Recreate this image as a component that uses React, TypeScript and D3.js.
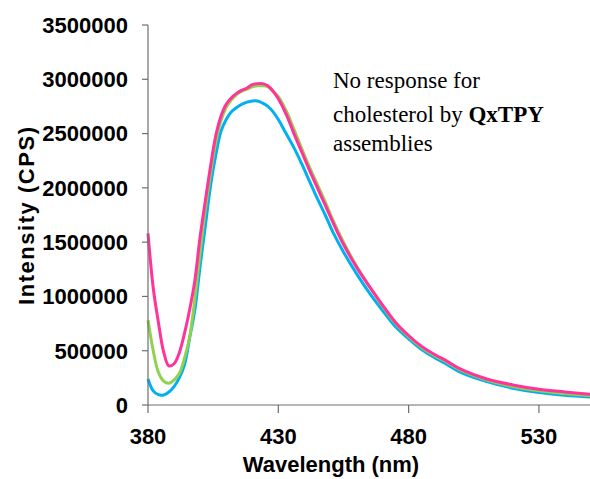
import React from "react";
import * as d3 from "d3";

const wavelengths = [380, 382, 384, 386, 388, 390, 392, 394, 396, 398, 400, 402, 404, 406, 408, 410, 412, 414, 416, 418, 420, 422, 424, 426, 428, 430, 433, 436, 439, 442, 445, 448, 451, 455, 460, 465, 470, 475, 480, 485, 490, 495, 500, 510, 520, 530, 540, 550];

const pinkSeries = [1.58, 1.08, 0.76, 0.49, 0.36, 0.38, 0.48, 0.66, 0.88, 1.15, 1.55, 1.88, 2.20, 2.48, 2.66, 2.77, 2.83, 2.87, 2.90, 2.92, 2.95, 2.96, 2.96, 2.94, 2.89, 2.82, 2.68, 2.50, 2.33, 2.16, 2.00, 1.84, 1.68, 1.48, 1.27, 1.09, 0.92, 0.76, 0.64, 0.54, 0.465, 0.40, 0.33, 0.24, 0.185, 0.145, 0.12, 0.098];

const greenSeries = [0.78, 0.50, 0.30, 0.22, 0.20, 0.23, 0.29, 0.43, 0.63, 0.98, 1.40, 1.80, 2.13, 2.42, 2.62, 2.74, 2.81, 2.86, 2.89, 2.91, 2.93, 2.94, 2.94, 2.93, 2.89, 2.84, 2.71, 2.54, 2.36, 2.19, 2.03, 1.87, 1.70, 1.50, 1.28, 1.09, 0.91, 0.75, 0.63, 0.53, 0.455, 0.39, 0.32, 0.23, 0.17, 0.13, 0.105, 0.085];

const blueSeries = [0.24, 0.13, 0.095, 0.092, 0.12, 0.17, 0.25, 0.37, 0.62, 0.88, 1.28, 1.65, 2.02, 2.30, 2.52, 2.63, 2.70, 2.74, 2.77, 2.79, 2.80, 2.80, 2.78, 2.75, 2.70, 2.63, 2.50, 2.37, 2.22, 2.06, 1.90, 1.75, 1.59, 1.41, 1.21, 1.03, 0.87, 0.72, 0.61, 0.51, 0.435, 0.37, 0.30, 0.215, 0.155, 0.115, 0.09, 0.072];

const xTicks = [380, 430, 480, 530];
const yTicks = [0, 500000, 1000000, 1500000, 2000000, 2500000, 3000000, 3500000];

const series = [
  { name: "blue", values: blueSeries, color: "#00B0F0" },
  { name: "green", values: greenSeries, color: "#92D050" },
  { name: "pink", values: pinkSeries, color: "#FF3399" },
];

export default function App() {
  const W = 590;
  const H = 479;
  const x = d3.scaleLinear().domain([380, 549.6]).range([148, 590]);
  const y = d3.scaleLinear().domain([0, 3500000]).range([405, 25]);
  const line = d3
    .line<number>()
    .x((_, i) => x(wavelengths[i]))
    .y((d) => y(d * 1e6))
    .curve(d3.curveCatmullRom.alpha(0.5));
  const axisColor = "#6e6e6e";
  const sans = "Arial, 'Liberation Sans', sans-serif";
  return (
    <svg
      width={W}
      height={H}
      style={{ position: "absolute", left: 0, top: 0, background: "#fff" }}
    >
      {series.map((s) => (
        <path
          key={s.name}
          d={line(s.values) || ""}
          fill="none"
          stroke={s.color}
          strokeWidth={3}
          strokeLinejoin="round"
        />
      ))}
      {/* axes */}
      <line x1={x(380)} x2={x(380)} y1={y(3500000)} y2={y(0)} stroke={axisColor} strokeWidth={1.2} />
      <line x1={x(380)} x2={590} y1={y(0)} y2={y(0)} stroke={axisColor} strokeWidth={1.2} />
      {yTicks.map((t) => (
        <g key={t}>
          <line x1={x(380) - 6} x2={x(380)} y1={y(t)} y2={y(t)} stroke={axisColor} strokeWidth={1.2} />
          <text
            x={128}
            y={y(t)}
            dy="0.36em"
            textAnchor="end"
            fontFamily={sans}
            fontWeight="bold"
            fontSize={22}
            fill="#000"
          >
            {t}
          </text>
        </g>
      ))}
      {xTicks.map((t) => (
        <g key={t}>
          <line x1={x(t)} x2={x(t)} y1={y(0)} y2={y(0) + 8} stroke={axisColor} strokeWidth={1.2} />
          <text
            x={x(t)}
            y={444}
            textAnchor="middle"
            fontFamily={sans}
            fontWeight="bold"
            fontSize={22}
            fill="#000"
          >
            {t}
          </text>
        </g>
      ))}
      <text
        x={331}
        y={472}
        textAnchor="middle"
        fontFamily={sans}
        fontWeight="bold"
        fontSize={22}
        fill="#000"
      >
        Wavelength (nm)
      </text>
      <text
        transform="translate(33.5,216) rotate(-90)"
        textAnchor="middle"
        fontFamily={sans}
        fontWeight="bold"
        fontSize={22}
        textLength={178}
        lengthAdjust="spacing"
        fill="#000"
      >
        Intensity (CPS)
      </text>
      <g fontFamily="'Times New Roman', 'Liberation Serif', serif" fontSize={23} fill="#000">
        <text x={333} y={88}>No response for</text>
        <text x={333} y={121.5}>
          cholesterol by <tspan fontWeight="bold">QxTPY</tspan>
        </text>
        <text x={333} y={150.5}>assemblies</text>
      </g>
    </svg>
  );
}
